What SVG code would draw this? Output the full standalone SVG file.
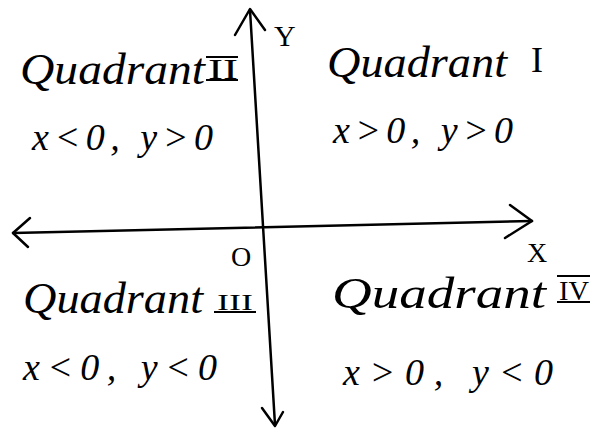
<svg xmlns="http://www.w3.org/2000/svg" width="600" height="429" viewBox="0 0 600 429">
<style>
.t{font-family:"Liberation Serif",serif;font-style:italic;fill:#000}
.n{font-family:"Liberation Serif",serif;font-style:normal;fill:#000}
.q{font-size:44px}
.m{font-size:38px}
.ax{fill:none;stroke:#000;stroke-width:2.5;stroke-linecap:round;stroke-linejoin:round}
.bar{stroke:#000;stroke-width:2}
</style>
<rect width="600" height="429" fill="#fff"/>
<g id="connectors">
<path class="ax" d="M250 10 Q262 220 275 425"/>
<path class="ax" d="M235 35 L250 9 L265 30"/>
<path class="ax" d="M262 408 L275 426 L283 412"/>
<path class="ax" d="M13 233 Q280 227 532 221"/>
<path class="ax" d="M30 218 L13 233 L28 247"/>
<path class="ax" d="M510 205 L532 221 L505 238"/>
</g>
<g id="axis-y"><text class="n" x="274" y="46" font-size="30">Y</text></g>
<g id="axis-x"><text class="n" x="527" y="262" font-size="28">X</text></g>
<g id="origin"><text class="n" x="231" y="266" font-size="28">O</text></g>
<g id="q2">
<text class="t q" x="20" y="84" textLength="185" lengthAdjust="spacingAndGlyphs">Quadrant</text>
<text class="n" x="208" y="79" font-size="30" textLength="30" lengthAdjust="spacingAndGlyphs">II</text>
<line class="bar" x1="206" y1="57" x2="238" y2="57"/><line class="bar" x1="206" y1="80" x2="238" y2="80"/>
<text class="t m" x="32" y="150" textLength="181" lengthAdjust="spacing">x&lt;0, y&gt;0</text>
</g>
<g id="q1">
<text class="t q" x="327" y="77" textLength="180" lengthAdjust="spacingAndGlyphs">Quadrant</text>
<text class="n" x="531" y="72" font-size="36">I</text>
<text class="t m" x="333" y="143" textLength="180" lengthAdjust="spacing">x&gt;0, y&gt;0</text>
</g>
<g id="q3">
<text class="t q" x="23" y="313" textLength="180" lengthAdjust="spacingAndGlyphs">Quadrant</text>
<text class="n" x="217" y="310" font-size="24" textLength="36" lengthAdjust="spacingAndGlyphs">III</text>
<line class="bar" x1="214" y1="312" x2="256" y2="312"/>
<text class="t m" x="23" y="380" textLength="194" lengthAdjust="spacing">x&lt;0, y&lt;0</text>
</g>
<g id="q4">
<text class="t q" x="332" y="308" textLength="214" lengthAdjust="spacingAndGlyphs">Quadrant</text>
<text class="n" x="559" y="300" font-size="28" textLength="30" lengthAdjust="spacingAndGlyphs">IV</text>
<line class="bar" x1="557" y1="276" x2="590" y2="276"/><line class="bar" x1="557" y1="302" x2="590" y2="302"/>
<text class="t m" x="343" y="385" textLength="210" lengthAdjust="spacing">x&gt;0, y&lt;0</text>
</g>
</svg>
